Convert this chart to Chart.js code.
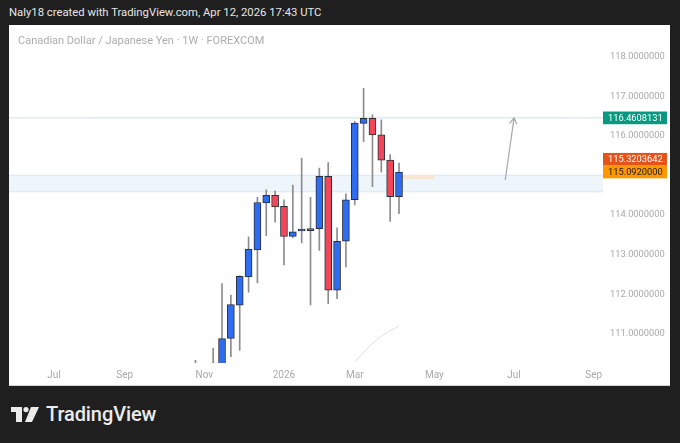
<!DOCTYPE html>
<html>
<head>
<meta charset="utf-8">
<script src="https://cdn.jsdelivr.net/npm/chart.js@4.4.1/dist/chart.umd.min.js"></script>
<style>
  html,body{margin:0;padding:0;width:680px;height:443px;overflow:hidden;background:#1f1f1f;font-family:Roboto,'Noto Sans',sans-serif}
  #hdr{position:absolute;left:9px;top:6px;color:#e6e6e6;font-size:11.3px;white-space:nowrap}
  #panel{position:absolute;left:9px;top:25px;width:661px;height:361px;background:#fff;border-bottom:1px solid #d4d4d4;box-sizing:border-box}
  #title{position:absolute;left:9px;top:9px;color:#adadad;font-size:11px;white-space:nowrap;z-index:2}
  #box{position:absolute;left:0;top:0;width:661px;height:361px}
  #logo{position:absolute;left:11px;top:407px}
  #brand{position:absolute;left:46px;top:404px;color:#ececec;font-size:20px;font-weight:500;line-height:20px;letter-spacing:-0.1px}
</style>
</head>
<body>
<div id="hdr">Naly18 created with TradingView.com, Apr 12, 2026 17:43 UTC</div>
<div id="panel">
  <div id="title">Canadian Dollar / Japanese Yen · 1W · FOREXCOM</div>
  <div id="box"><canvas id="cadjpy"></canvas></div>
</div>
<svg id="logo" width="28" height="15" viewBox="0 0 28 15">
  <rect x="0" y="0" width="11" height="5" fill="#ececec"/>
  <rect x="5" y="0" width="6" height="15" fill="#ececec"/>
  <circle cx="15" cy="2.6" r="2.6" fill="#ececec"/>
  <polygon points="20,0 28,0 21,15 14,15" fill="#ececec"/>
</svg>
<div id="brand">TradingView</div>

<script>
/* ── weekly candles, week offset from Apr 6 2026 ── */
const WEEKS = [-23,-22,-21,-20,-19,-18,-17,-16,-15,-14,-13,-12,-11,-10,-9,-8,-7,-6,-5,-4,-3,-2,-1,0];
const OPEN  = [109.80,110.00,109.70,110.05,110.88,111.72,112.44,113.12,114.31,114.50,114.22,113.46,113.60,113.61,113.66,114.98,112.10,113.34,114.39,116.32,116.45,116.03,115.39,114.47];
const HIGH  = [110.33,110.20,110.63,112.27,111.98,112.47,113.45,114.45,114.64,114.61,114.39,114.76,115.44,114.45,115.19,115.33,113.68,114.54,116.37,117.21,116.54,116.41,115.53,115.32];
const LOW   = [109.20,109.40,109.50,109.90,110.42,110.58,112.05,112.29,113.48,113.82,112.74,113.43,113.30,111.73,113.11,111.76,111.89,112.69,114.26,115.86,114.72,115.09,113.84,114.04];
const CLOSE = [110.00,109.70,110.05,110.88,111.74,112.45,113.14,114.32,114.50,114.21,113.46,113.58,113.61,113.66,114.98,112.10,113.34,114.39,116.33,116.45,116.03,115.39,114.47,115.09];

/* ── axes ── */
const X_TICK_POS   = [-39,-31,-22,-13,-5,4,13,22];
const X_TICK_LABEL = ['Jul','Sep','Nov','2026','Mar','May','Jul','Sep'];
const Y_TICKS = [111,112,113,114,115,116,117,118];
const X_RANGE = [-44.07, 23.05];
const Y_RANGE = [110.26, 118.81];

/* ── drawings ── */
const LEVEL = 116.4608131;
const ZONE = [114.58, 115.02];
const BOX_X = [0.3, 4.0], BOX_Y = [114.91, 115.02];
const ARROW_X = [12.0, 13.0], ARROW_Y = [114.89, 116.46];
const CURVE_X = [-4.97, -2.3, 0], CURVE_Y = [110.30, 110.89, 111.20];
const PRICE_LABELS = [116.4608131, 115.3203642, 115.0920000];
const LABEL_BG = ['#089981','#e5531a','#ff9800'];
const LABEL_FG = ['#ffffff','#ffffff','#1a1a1a'];

const UP = '#2e6cf0', DN = '#f0475a';

/* zone band + box behind candles, arrow + price labels on top */
const drawings = {
  id:'drawings',
  beforeDatasetsDraw(chart) {
    const {ctx, chartArea:a, scales:{x,y}} = chart;
    ctx.save();
    const t = y.getPixelForValue(ZONE[1]), b = y.getPixelForValue(ZONE[0]);
    ctx.fillStyle = '#eef5fb';
    ctx.fillRect(a.left, t, a.right-a.left, b-t);
    ctx.strokeStyle = '#dde8f0'; ctx.lineWidth = 1;
    ctx.beginPath(); ctx.moveTo(a.left,t+.5); ctx.lineTo(a.right,t+.5); ctx.moveTo(a.left,b-.5); ctx.lineTo(a.right,b-.5); ctx.stroke();
    const bx0 = x.getPixelForValue(BOX_X[0]), bx1 = x.getPixelForValue(BOX_X[1]);
    const by0 = y.getPixelForValue(BOX_Y[1]), by1 = y.getPixelForValue(BOX_Y[0]);
    ctx.fillStyle = '#f7e6d2';
    ctx.fillRect(bx0, by0, bx1-bx0, by1-by0);
    ctx.restore();
  },
  afterDatasetsDraw(chart) {
    const {ctx, scales:{x,y}} = chart;
    ctx.save();
    const x0 = x.getPixelForValue(ARROW_X[0]), y0 = y.getPixelForValue(ARROW_Y[0]);
    const x1 = x.getPixelForValue(ARROW_X[1]), y1 = y.getPixelForValue(ARROW_Y[1]);
    const ang = Math.atan2(y1-y0, x1-x0);
    ctx.strokeStyle = '#a8a8a8'; ctx.lineWidth = 1.2;
    ctx.beginPath(); ctx.moveTo(x0,y0); ctx.lineTo(x1,y1);
    ctx.moveTo(x1 - 7*Math.cos(ang-0.55), y1 - 7*Math.sin(ang-0.55)); ctx.lineTo(x1,y1);
    ctx.lineTo(x1 - 7*Math.cos(ang+0.55), y1 - 7*Math.sin(ang+0.55));
    ctx.stroke();
    ctx.restore();
  },
  afterDraw(chart) {
    const {ctx, chartArea:a, scales:{y}} = chart;
    const h = 12.7;
    const ys = PRICE_LABELS.map(v => y.getPixelForValue(v));
    for (let i = ys.length-2; i >= 0; i--) ys[i] = Math.min(ys[i], ys[i+1]-h);
    ctx.save();
    ctx.font = '9.3px Roboto, sans-serif';
    ctx.textBaseline = 'middle';
    PRICE_LABELS.forEach((v,i) => {
      ctx.fillStyle = LABEL_BG[i];
      ctx.fillRect(a.right, ys[i]-h/2, 64, h);
      ctx.fillStyle = LABEL_FG[i];
      ctx.fillText(v.toFixed(7), a.right+5, ys[i]+.5);
    });
    ctx.restore();
  }
};

const bodies = WEEKS.map((w,i) => ({x:w, y:[OPEN[i], CLOSE[i]]}));
const wicks  = WEEKS.map((w,i) => ({x:w, y:[LOW[i], HIGH[i]]}));
const colors = WEEKS.map((w,i) => CLOSE[i] >= OPEN[i] ? UP : DN);

new Chart(document.getElementById('cadjpy'), {
  type:'bar',
  data:{
    datasets:[
      { data:bodies, backgroundColor:colors, borderColor:'#2a2e39', borderWidth:1, borderSkipped:false, barThickness:7, minBarLength:2, grouped:false, order:0 },
      { data:wicks, backgroundColor:'#8c8c8c', borderWidth:0, barThickness:1, grouped:false, order:1 },
      { type:'line', data:[{x:X_RANGE[0],y:LEVEL},{x:X_RANGE[1],y:LEVEL}], borderColor:'#cde2ea', borderWidth:1, pointRadius:0, order:2 },
      { type:'line', data:CURVE_X.map((v,i)=>({x:v,y:CURVE_Y[i]})), borderColor:'#dedede', borderWidth:1, pointRadius:0, tension:.4, order:3 }
    ]
  },
  options:{
    responsive:true, maintainAspectRatio:false, animation:false,
    layout:{ padding:0, autoPadding:false },
    plugins:{ legend:{display:false}, tooltip:{enabled:false} },
    scales:{
      x:{
        type:'linear', min:X_RANGE[0], max:X_RANGE[1], offset:false,
        grid:{display:false, drawTicks:false}, border:{display:false},
        afterBuildTicks:s => { s.ticks = X_TICK_POS.map(v=>({value:v})); },
        afterFit:s => { s.height = 23; s.paddingLeft = 0; s.paddingRight = 0; },
        ticks:{ autoSkip:false, maxRotation:0, padding:6, color:'#a9a9a9', font:{family:'Roboto', size:10},
          callback:v => X_TICK_LABEL[X_TICK_POS.indexOf(v)] }
      },
      y:{
        position:'right', min:Y_RANGE[0], max:Y_RANGE[1],
        grid:{display:false, drawTicks:false}, border:{display:false},
        afterBuildTicks:s => { s.ticks = Y_TICKS.map(v=>({value:v})); },
        afterFit:s => { s.width = 67; s.paddingTop = 0; s.paddingBottom = 0; },
        ticks:{ padding:7, color:'#a9a9a9', font:{family:'Roboto', size:9.3}, callback:v => v.toFixed(7) }
      }
    }
  },
  plugins:[drawings]
});
</script>
</body>
</html>
